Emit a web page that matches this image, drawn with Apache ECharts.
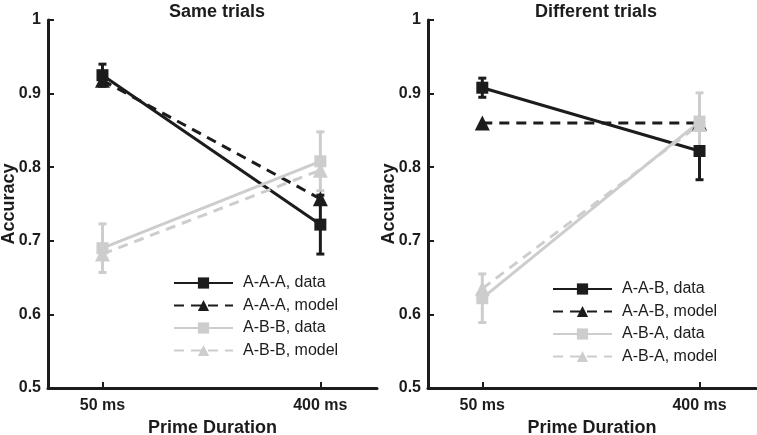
<!DOCTYPE html>
<html><head><meta charset="utf-8">
<script src="https://cdn.jsdelivr.net/npm/echarts@6/dist/echarts.min.js"></script>
<style>html,body{margin:0;padding:0;background:#fff}#c{width:757px;height:435px}</style>
</head><body><div id="c"></div>
<script>
const durations = ['50 ms', '400 ms'];
const xPos = [1, 2];
const yTicks = [0.5, 0.6, 0.7, 0.8, 0.9, 1];

// Same trials
const sameAAAData = [0.925, 0.722];
const sameAAAErr = [0.015, 0.04];
const sameAAAModel = [0.918, 0.757];
const sameABBData = [0.69, 0.808];
const sameABBErr = [0.033, 0.04];
const sameABBModel = [0.682, 0.796];

// Different trials
const diffAABData = [0.908, 0.822];
const diffAABErr = [0.013, 0.039];
const diffAABModel = [0.86, 0.86];
const diffABAData = [0.622, 0.862];
const diffABAErr = [0.033, 0.039];
const diffABAModel = [0.635, 0.858];

const BLACK = '#1c1c1c', GRAY = '#cdcdcd';
const FONT = 'Liberation Sans';

function pts(vals) { return vals.map((v, i) => [xPos[i], v]); }
function errPts(vals, errs) { return vals.map((v, i) => [xPos[i], v - errs[i], v + errs[i]]); }

function errSeries(idx, vals, errs, color) {
  return {
    type: 'custom', xAxisIndex: idx, yAxisIndex: idx, z: 3, silent: true,
    data: errPts(vals, errs),
    renderItem: function (params, api) {
      const x = api.value(0);
      const lo = api.coord([x, api.value(1)]);
      const hi = api.coord([x, api.value(2)]);
      const cap = 4;
      const st = { stroke: color, lineWidth: 3 };
      return { type: 'group', children: [
        { type: 'line', shape: { x1: lo[0], y1: lo[1], x2: hi[0], y2: hi[1] }, style: st },
        { type: 'line', shape: { x1: lo[0] - cap, y1: lo[1], x2: lo[0] + cap, y2: lo[1] }, style: st },
        { type: 'line', shape: { x1: hi[0] - cap, y1: hi[1], x2: hi[0] + cap, y2: hi[1] }, style: st }
      ]};
    }
  };
}
function lineSeries(idx, name, vals, color, dashed, symbol) {
  return {
    type: 'line', name: name, xAxisIndex: idx, yAxisIndex: idx, z: 4,
    data: pts(vals), symbol: symbol, symbolSize: symbol === 'triangle' ? 15 : 12,
    lineStyle: { color: color, width: 3, type: dashed ? [10, 7] : 'solid' },
    itemStyle: { color: color }, animation: false
  };
}

const grids = [
  { left: 48, top: 20, width: 329, height: 368, outerBoundsMode: 'none', containLabel: false },
  { left: 428, top: 20, width: 328, height: 368, outerBoundsMode: 'none', containLabel: false }
];
function xAxis(idx) {
  return {
    type: 'value', gridIndex: idx, min: 0.75, max: 2.26,
    axisLine: { show: true, lineStyle: { color: BLACK, width: 3 } },
    axisTick: { show: true, inside: true, length: 6, lineStyle: { color: BLACK, width: 2 }, customValues: xPos },
    axisLabel: { customValues: xPos, formatter: v => durations[xPos.indexOf(v)] || '',
      color: BLACK, fontFamily: FONT, fontWeight: 'bold', fontSize: 16, margin: 10 },
    splitLine: { show: false },
    name: 'Prime Duration', nameLocation: 'middle', nameGap: 27,
    nameTextStyle: { color: BLACK, fontFamily: FONT, fontWeight: 'bold', fontSize: 18 }
  };
}
function yAxis(idx) {
  return {
    type: 'value', gridIndex: idx, min: 0.5, max: 1, interval: 0.1,
    axisLine: { show: true, lineStyle: { color: BLACK, width: 3 } },
    axisTick: { show: true, inside: true, length: 6, lineStyle: { color: BLACK, width: 2 } },
    axisLabel: { formatter: v => (Math.abs(v - 1) < 1e-9 ? '1' : v.toFixed(1)),
      color: BLACK, fontFamily: FONT, fontWeight: 'bold', fontSize: 16, margin: 7 },
    splitLine: { show: false },
    name: 'Accuracy', nameLocation: 'middle', nameGap: 30, nameMoveOverlap: false,
    nameTextStyle: { color: BLACK, fontFamily: FONT, fontWeight: 'bold', fontSize: 18 }
  };
}
function legend(left, top, names) {
  return {
    left: left, top: top, orient: 'vertical', padding: 0, itemWidth: 59, itemHeight: 14, itemGap: 6.5,
    data: names, selectedMode: false,
    textStyle: { color: BLACK, fontFamily: FONT, fontSize: 16, padding: [0, 0, 0, 5] }
  };
}

const option = {
  animation: false,
  title: [
    { text: 'Same trials', left: 212, top: -2, textAlign: 'center',
      textStyle: { color: BLACK, fontFamily: FONT, fontWeight: 'bold', fontSize: 18 } },
    { text: 'Different trials', left: 591, top: -2, textAlign: 'center',
      textStyle: { color: BLACK, fontFamily: FONT, fontWeight: 'bold', fontSize: 18 } }
  ],
  grid: grids,
  xAxis: [xAxis(0), xAxis(1)],
  yAxis: [yAxis(0), yAxis(1)],
  legend: [
    legend(173, 275, ['A-A-A, data', 'A-A-A, model', 'A-B-B, data', 'A-B-B, model']),
    legend(552, 281, ['A-A-B, data', 'A-A-B, model', 'A-B-A, data', 'A-B-A, model'])
  ],
  series: [
    errSeries(0, sameAAAData, sameAAAErr, BLACK),
    lineSeries(0, 'A-A-A, data', sameAAAData, BLACK, false, 'rect'),
    lineSeries(0, 'A-A-A, model', sameAAAModel, BLACK, true, 'triangle'),
    errSeries(0, sameABBData, sameABBErr, GRAY),
    lineSeries(0, 'A-B-B, data', sameABBData, GRAY, false, 'rect'),
    lineSeries(0, 'A-B-B, model', sameABBModel, GRAY, true, 'triangle'),
    errSeries(1, diffAABData, diffAABErr, BLACK),
    lineSeries(1, 'A-A-B, data', diffAABData, BLACK, false, 'rect'),
    lineSeries(1, 'A-A-B, model', diffAABModel, BLACK, true, 'triangle'),
    errSeries(1, diffABAData, diffABAErr, GRAY),
    lineSeries(1, 'A-B-A, data', diffABAData, GRAY, false, 'rect'),
    lineSeries(1, 'A-B-A, model', diffABAModel, GRAY, true, 'triangle')
  ]
};
const chart = echarts.init(document.getElementById('c'), null, { renderer: 'canvas' });
chart.setOption(option);
</script></body></html>
